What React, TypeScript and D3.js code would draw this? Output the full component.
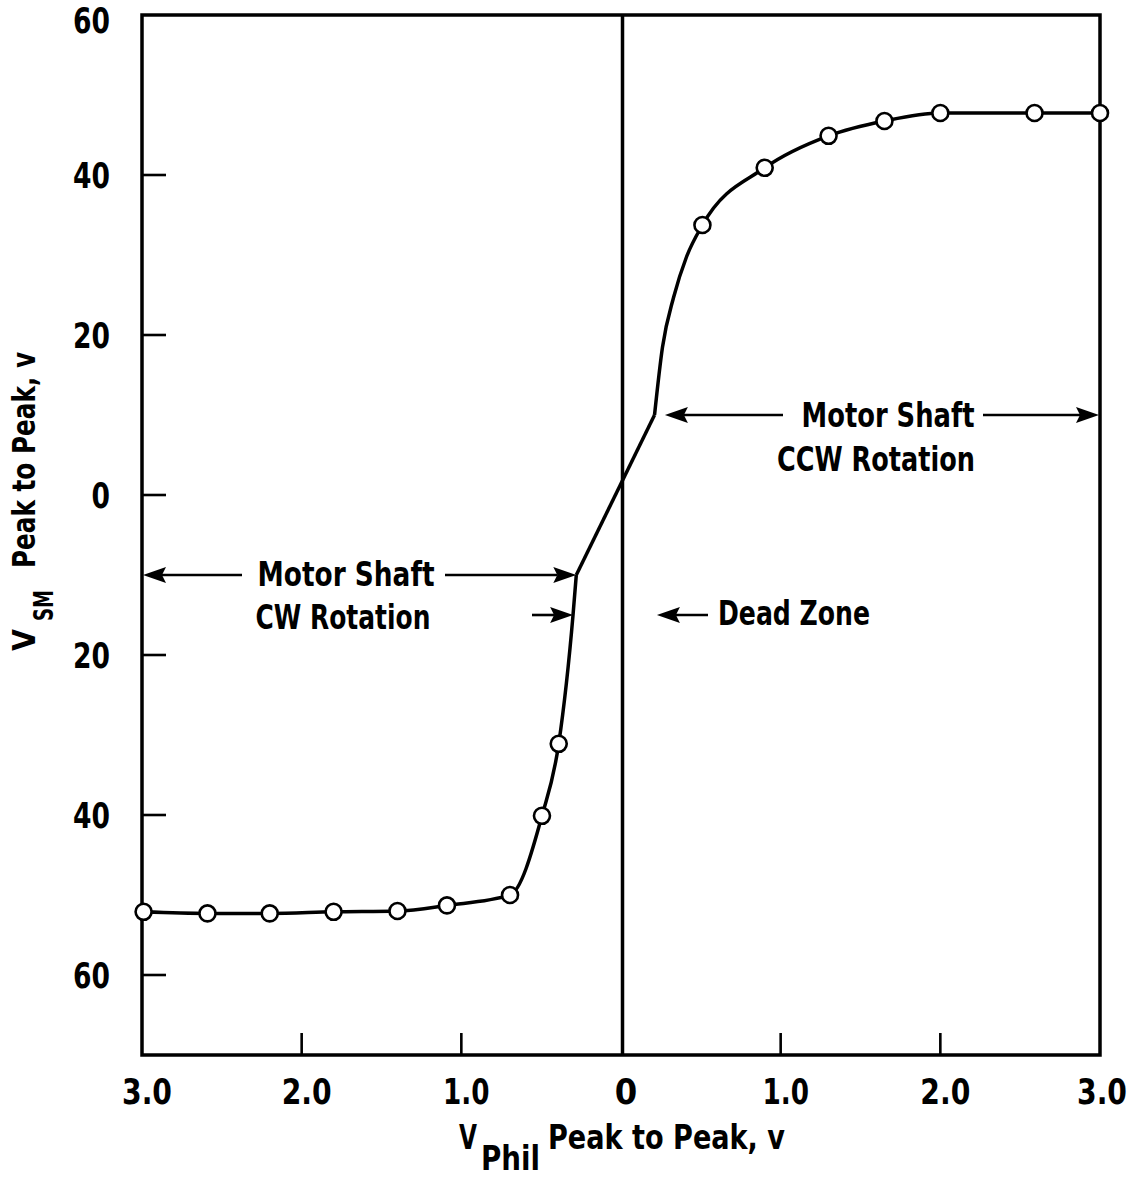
import React from "react";
import * as d3 from "d3";

// ---------- data ----------
const cwX = [-2.99, -2.59, -2.2, -1.8, -1.4, -1.09, -0.695, -0.495, -0.39];
const cwY = [-52.1, -52.3, -52.3, -52.1, -52.0, -51.3, -50.0, -40.1, -31.1];
const ccwX = [0.51, 0.9, 1.3, 1.65, 2.0, 2.59, 3.0];
const ccwY = [33.75, 40.9, 44.9, 46.75, 47.75, 47.75, 47.75];

// traced curve nodes (no markers)
const cwTailX = [-0.3, -0.28];
const cwTailY = [-14.9, -10];
const deadX = [-0.28, 0.21];
const deadY = [-10, 10];
const ccwHeadX = [0.21, 0.26, 0.33, 0.41];
const ccwHeadY = [10, 18.5, 24.75, 29.75];

const xTickValues = [-3, -2, -1, 0, 1, 2, 3];
const xTickLabels = ["3.0", "2.0", "1.0", "0", "1.0", "2.0", "3.0"];
const yTickValues = [60, 40, 20, 0, -20, -40, -60];
const yTickLabels = ["60", "40", "20", "0", "20", "40", "60"];

const FONT = "'Liberation Sans Narrow','DejaVu Sans Condensed','Roboto Condensed','DejaVu Sans',Arial,sans-serif";

const W = 1132;
const H = 1177;
const x = d3.scaleLinear().domain([-3, 3]).range([142, 1100]);
const y = d3.scaleLinear().domain([-70, 60]).range([1055, 15]);

function zip(xs: number[], ys: number[]): [number, number][] {
  return xs.map((v, i) => [v, ys[i]]);
}

const smooth = d3
  .line<[number, number]>()
  .x((d) => x(d[0]))
  .y((d) => y(d[1]))
  .curve(d3.curveMonotoneX);
const straight = d3
  .line<[number, number]>()
  .x((d) => x(d[0]))
  .y((d) => y(d[1]));

function Arrow({ x1, y1, x2, y2 }: { x1: number; y1: number; x2: number; y2: number }) {
  const dir = Math.sign(x2 - x1);
  const L = 23;
  const hw = 8;
  const notch = 4;
  const head = `M${x2},${y2} L${x2 - dir * L},${y2 - hw} L${x2 - dir * (L - notch)},${y2} L${x2 - dir * L},${y2 + hw} Z`;
  return (
    <g>
      <line x1={x1} y1={y1} x2={x2 - dir * (L - notch)} y2={y2} stroke="#000" strokeWidth={2.6} />
      <path d={head} fill="#000" />
    </g>
  );
}

function labelWidth(s: string): number {
  let w = 0;
  for (const ch of s) w += ch === "." ? 9 : ch === "1" ? 15 : 18.5;
  return w;
}

export default function App() {
  const cwLine = zip([...cwX, ...cwTailX], [...cwY, ...cwTailY]);
  const ccwLine = zip([...ccwHeadX, ...ccwX], [...ccwHeadY, ...ccwY]);
  const dead = zip(deadX, deadY);
  const markers = [...zip(cwX, cwY), ...zip(ccwX, ccwY)];

  const yBottom = y(-70);
  const yTop = y(60);

  const textStyle = { fontFamily: FONT, fontWeight: 700 as const, fill: "#000" };

  return (
    <svg width={W} height={H} style={{ position: "absolute", left: 0, top: 0, background: "#fff" }}>
      <rect x={0} y={0} width={W} height={H} fill="#fff" />
      {/* frame */}
      <rect x={x(-3)} y={yTop} width={x(3) - x(-3)} height={yBottom - yTop} fill="none" stroke="#000" strokeWidth={3.5} />
      {/* zero line */}
      <line x1={x(0) + 1.5} x2={x(0) + 1.5} y1={yTop} y2={yBottom} stroke="#000" strokeWidth={3.5} />

      {/* y ticks */}
      {yTickValues.map((v, i) => (
        <g key={"yt" + i}>
          {v !== 60 && <line x1={x(-3)} x2={x(-3) + 24} y1={y(v)} y2={y(v)} stroke="#000" strokeWidth={2.6} />}
          <text
            x={110}
            y={Math.max(y(v) + 13, 33)}
            textAnchor="end"
            fontSize={35}
            textLength={labelWidth(yTickLabels[i])}
            lengthAdjust="spacingAndGlyphs"
            {...textStyle}
          >
            {yTickLabels[i]}
          </text>
        </g>
      ))}

      {/* x ticks */}
      {xTickValues.map((v, i) => (
        <g key={"xt" + i}>
          {Math.abs(v) !== 3 && v !== 0 && (
            <line x1={x(v)} x2={x(v)} y1={yBottom} y2={yBottom - 22} stroke="#000" strokeWidth={2.6} />
          )}
          <text
            x={x(v) + (v === 3 ? 2 : 5)}
            y={1104}
            textAnchor="middle"
            fontSize={35}
            textLength={labelWidth(xTickLabels[i]) + 4}
            lengthAdjust="spacingAndGlyphs"
            {...textStyle}
          >
            {xTickLabels[i]}
          </text>
        </g>
      ))}

      {/* curve */}
      <path d={smooth(cwLine) || ""} fill="none" stroke="#000" strokeWidth={3.5} />
      <path d={straight(dead) || ""} fill="none" stroke="#000" strokeWidth={3.5} />
      <path d={smooth(ccwLine) || ""} fill="none" stroke="#000" strokeWidth={3.5} />

      {/* markers */}
      {markers.map((d, i) => (
        <circle key={"m" + i} cx={x(d[0])} cy={y(d[1])} r={8} fill="#fff" stroke="#000" strokeWidth={2.6} />
      ))}

      {/* CW annotation */}
      <Arrow x1={242} y1={y(-10)} x2={x(-3) + 1} y2={y(-10)} />
      <Arrow x1={445} y1={y(-10)} x2={x(-0.28)} y2={y(-10)} />
      <Arrow x1={532} y1={y(-15)} x2={x(-0.3)} y2={y(-15)} />
      <text x={346} y={y(-10) + 11} textAnchor="middle" fontSize={33} textLength={177} lengthAdjust="spacingAndGlyphs" {...textStyle}>
        Motor Shaft
      </text>
      <text x={343} y={y(-10) + 54} textAnchor="middle" fontSize={33} textLength={175} lengthAdjust="spacingAndGlyphs" {...textStyle}>
        CW Rotation
      </text>

      {/* CCW annotation */}
      <Arrow x1={783} y1={y(10)} x2={x(0.275)} y2={y(10)} />
      <Arrow x1={983} y1={y(10)} x2={x(3) - 1} y2={y(10)} />
      <text x={888} y={y(10) + 12} textAnchor="middle" fontSize={33} textLength={173} lengthAdjust="spacingAndGlyphs" {...textStyle}>
        Motor Shaft
      </text>
      <text x={876} y={y(10) + 56} textAnchor="middle" fontSize={33} textLength={198} lengthAdjust="spacingAndGlyphs" {...textStyle}>
        CCW Rotation
      </text>

      {/* Dead zone */}
      <Arrow x1={708} y1={y(-15)} x2={x(0.225)} y2={y(-15)} />
      <text x={718} y={y(-15) + 10} textAnchor="start" fontSize={33} textLength={152} lengthAdjust="spacingAndGlyphs" {...textStyle}>
        Dead Zone
      </text>

      {/* x axis title */}
      <text x={459} y={1149} fontSize={33} textLength={18} lengthAdjust="spacingAndGlyphs" {...textStyle}>
        V
      </text>
      <text x={481} y={1170} fontSize={33} textLength={59} lengthAdjust="spacingAndGlyphs" {...textStyle}>
        Phil
      </text>
      <text x={548} y={1149} fontSize={33} textLength={237} lengthAdjust="spacingAndGlyphs" {...textStyle}>
        Peak to Peak, v
      </text>

      {/* y axis title */}
      <text transform="translate(35,651) rotate(-90)" fontSize={32} textLength={22} lengthAdjust="spacingAndGlyphs" {...textStyle}>
        V
      </text>
      <text transform="translate(53,621) rotate(-90)" fontSize={27} textLength={31} lengthAdjust="spacingAndGlyphs" {...textStyle}>
        SM
      </text>
      <text transform="translate(35,568) rotate(-90)" fontSize={32} textLength={216} lengthAdjust="spacingAndGlyphs" {...textStyle}>
        Peak to Peak, v
      </text>
    </svg>
  );
}
